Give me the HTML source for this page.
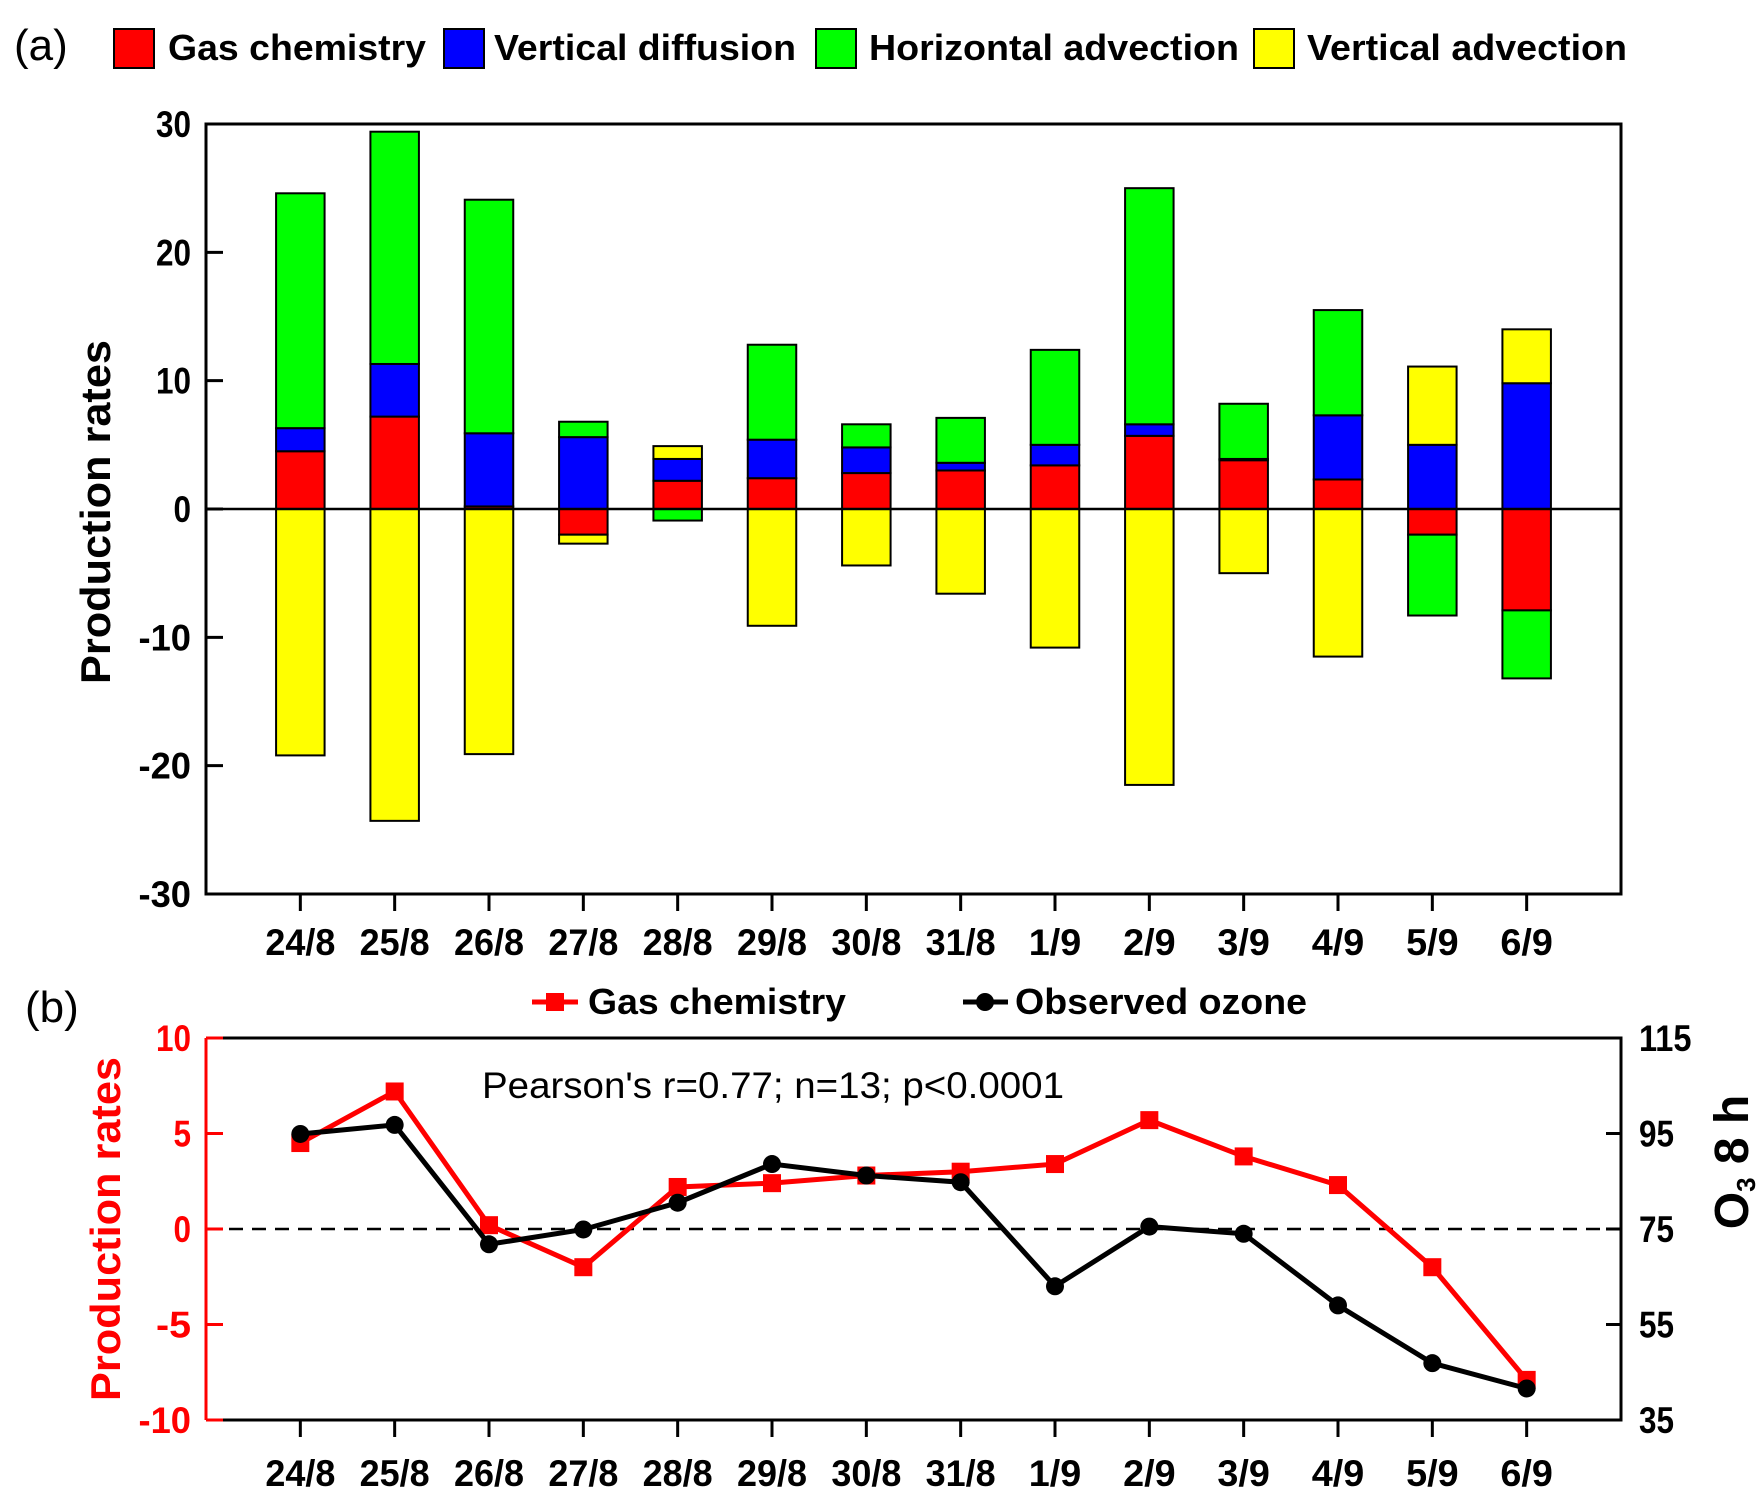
<!DOCTYPE html>
<html><head><meta charset="utf-8"><style>
html,body{margin:0;padding:0;background:#fff}
svg{display:block}
text{font-family:"Liberation Sans Narrow","Liberation Sans",sans-serif}
.b{font-weight:bold}
</style></head><body>
<svg id="chart" width="1762" height="1509" viewBox="0 0 1762 1509" xmlns="http://www.w3.org/2000/svg">
<g id="static">
<text x="14" y="60" font-size="44" font-family="Liberation Sans, sans-serif">(a)</text>
<g>
<rect x="114" y="29" width="40" height="39" fill="#ff0000" stroke="#000" stroke-width="2"/>
<text x="168" y="60" class="b" font-size="36" textLength="258" lengthAdjust="spacingAndGlyphs">Gas chemistry</text>
<rect x="444" y="29" width="40" height="39" fill="#0000ff" stroke="#000" stroke-width="2"/>
<text x="494" y="60" class="b" font-size="36" textLength="302" lengthAdjust="spacingAndGlyphs">Vertical diffusion</text>
<rect x="816" y="29" width="40" height="39" fill="#00ff00" stroke="#000" stroke-width="2"/>
<text x="869" y="60" class="b" font-size="36" textLength="370" lengthAdjust="spacingAndGlyphs">Horizontal advection</text>
<rect x="1254" y="29" width="40" height="39" fill="#ffff00" stroke="#000" stroke-width="2"/>
<text x="1307" y="60" class="b" font-size="36" textLength="320" lengthAdjust="spacingAndGlyphs">Vertical advection</text>
</g>
<text transform="translate(110,512) rotate(-90)" text-anchor="middle" class="b" font-size="42" textLength="344" lengthAdjust="spacingAndGlyphs" font-family="Liberation Sans, sans-serif">Production  rates</text>
<text x="25" y="1022" font-size="44" font-family="Liberation Sans, sans-serif">(b)</text>
<g>
<line x1="532" y1="1002" x2="578" y2="1002" stroke="#ff0000" stroke-width="5"/>
<rect x="546" y="993" width="18" height="18" fill="#ff0000"/>
<text x="588" y="1014" class="b" font-size="36" textLength="258" lengthAdjust="spacingAndGlyphs">Gas chemistry</text>
<line x1="963" y1="1002" x2="1008" y2="1002" stroke="#000" stroke-width="5"/>
<circle cx="985" cy="1002" r="9" fill="#000"/>
<text x="1015" y="1014" class="b" font-size="36" textLength="292" lengthAdjust="spacingAndGlyphs">Observed ozone</text>
</g>
<text x="482" y="1098" font-size="37" textLength="582" lengthAdjust="spacingAndGlyphs">Pearson's r=0.77; n=13; p&lt;0.0001</text>
<text transform="translate(120,1229) rotate(-90)" text-anchor="middle" class="b" font-size="42" textLength="344" lengthAdjust="spacingAndGlyphs" fill="#ff0000" font-family="Liberation Sans, sans-serif">Production  rates</text>
<text transform="translate(1748,1162) rotate(-90)" text-anchor="middle" class="b" font-size="48" font-family="Liberation Sans, sans-serif">O<tspan font-size="26" dy="7">3</tspan><tspan dy="-7"> 8 h</tspan></text>
</g>
<g id="dyn"></g>
</svg>
<script>
const categories = ["24/8","25/8","26/8","27/8","28/8","29/8","30/8","31/8","1/9","2/9","3/9","4/9","5/9","6/9"];
const gasChemistry = [4.5,7.2,0.2,-2.0,2.2,2.4,2.8,3.0,3.4,5.7,3.8,2.3,-2.0,-7.9];
const verticalDiffusion = [1.8,4.1,5.7,5.6,1.7,3.0,2.0,0.6,1.6,0.9,0.1,5.0,5.0,9.8];
const horizontalAdvection = [18.3,18.1,18.2,1.2,-0.9,7.4,1.8,3.5,7.4,18.4,4.3,8.2,-6.3,-5.3];
const verticalAdvection = [-19.2,-24.3,-19.1,-0.7,1.0,-9.1,-4.4,-6.6,-10.8,-21.5,-5.0,-11.5,6.1,4.2];
const observedOzone = [94.9,96.8,71.8,74.9,80.5,88.6,86.2,84.8,63.0,75.5,74.0,59.0,46.9,41.6];
const ticksA = [-30,-20,-10,0,10,20,30];
const ticksBLeft = [-10,-5,0,5,10];
const ticksBRight = [35,55,75,95,115];

const NS="http://www.w3.org/2000/svg";
const dyn=document.getElementById('dyn');
function mk(tag,attrs,parent){const e=document.createElementNS(NS,tag);for(const k in attrs)e.setAttribute(k,attrs[k]);(parent||dyn).appendChild(e);return e;}
const L=206,R=1621;
const BT=1038,BB=1420;
const xPos=i=>L+(i+1)*(R-L)/(categories.length+1);
const yA=v=>509-(v)*(894-124)/60;
const yB=v=>(BT+BB)/2-v*(BB-BT)/20;
const yR=v=>BB-(v-35)*(BB-BT)/80;
const tl=s=>String(s).length*17.5;

const series=[[gasChemistry,'#ff0000','gas-chemistry'],[verticalDiffusion,'#0000ff','vertical-diffusion'],[horizontalAdvection,'#00ff00','horizontal-advection'],[verticalAdvection,'#ffff00','vertical-advection']];
const bw=48.5;
const barsG=mk('g',{});


categories.forEach((c,i)=>{
  let pos=0,neg=0;
  series.forEach(([arr,col,nm])=>{
    const v=arr[i];let a,b;
    if(v>=0){a=pos;b=pos+v;pos=b;}else{a=neg;b=neg+v;neg=b;}
    const y1=yA(Math.max(a,b)),y2=yA(Math.min(a,b));
    const r=mk('rect',{x:xPos(i)-bw/2,y:y1,width:bw,height:Math.max(0,y2-y1),fill:col,stroke:'#000','stroke-width':2},barsG);
    
    
  });
});
const z=mk('line',{x1:L,x2:R,y1:yA(0),y2:yA(0),stroke:'#000','stroke-width':2.5});


const fa=mk('rect',{x:L,y:yA(30),width:R-L,height:yA(-30)-yA(30),fill:'none',stroke:'#000','stroke-width':3});


ticksA.forEach(t=>{
  const ln=mk('line',{x1:L,x2:L+17,y1:yA(t),y2:yA(t),stroke:'#000','stroke-width':3});
  
  
  const tx=mk('text',{x:L-15,y:yA(t)+13,'text-anchor':'end','font-size':37,'font-weight':'bold',textLength:tl(t),lengthAdjust:'spacingAndGlyphs'});
  tx.textContent=t;
  
  
});
categories.forEach((c,i)=>{
  const ln=mk('line',{x1:xPos(i),x2:xPos(i),y1:yA(-30),y2:yA(-30)+17,stroke:'#000','stroke-width':3});
  
  
  const tx=mk('text',{x:xPos(i),y:955,'text-anchor':'middle','font-size':37,'font-weight':'bold',textLength:tl(c),lengthAdjust:'spacingAndGlyphs'});
  tx.textContent=c;
  
  
  const ln2=mk('line',{x1:xPos(i),x2:xPos(i),y1:BB,y2:BB+17,stroke:'#000','stroke-width':3});
  
  
  const tx2=mk('text',{x:xPos(i),y:1486,'text-anchor':'middle','font-size':37,'font-weight':'bold',textLength:tl(c),lengthAdjust:'spacingAndGlyphs'});
  tx2.textContent=c;
  
  
});

const dash=mk('line',{x1:L,x2:R,y1:yB(0),y2:yB(0),stroke:'#000','stroke-width':2.5,'stroke-dasharray':'14 9'});


const fb1=mk('path',{d:`M${L},${BT} H${R} V${BB} H${L}`,fill:'none',stroke:'#000','stroke-width':3});


const fb2=mk('line',{x1:L,x2:L,y1:BT,y2:BB,stroke:'#ff0000','stroke-width':3});


ticksBLeft.forEach(t=>{
  const ln=mk('line',{x1:L,x2:L+17,y1:yB(t),y2:yB(t),stroke:'#ff0000','stroke-width':3});
  
  
  const tx=mk('text',{x:L-15,y:yB(t)+13,'text-anchor':'end','font-size':37,'font-weight':'bold',fill:'#ff0000',textLength:tl(t),lengthAdjust:'spacingAndGlyphs'});
  tx.textContent=t;
  
  
});
ticksBRight.forEach(t=>{
  const ln=mk('line',{x1:R,x2:R-15,y1:yR(t),y2:yR(t),stroke:'#000','stroke-width':3});
  
  
  const tx=mk('text',{x:R+18,y:yR(t)+13,'text-anchor':'start','font-size':37,'font-weight':'bold',textLength:tl(t),lengthAdjust:'spacingAndGlyphs'});
  tx.textContent=t;
  
  
});
const gl=mk('polyline',{points:gasChemistry.map((v,i)=>xPos(i)+','+yB(v)).join(' '),fill:'none',stroke:'#ff0000','stroke-width':5});


gasChemistry.forEach((v,i)=>{
  const r=mk('rect',{x:xPos(i)-9,y:yB(v)-9,width:18,height:18,fill:'#ff0000'});
  
  
});
const ol=mk('polyline',{points:observedOzone.map((v,i)=>xPos(i)+','+yR(v)).join(' '),fill:'none',stroke:'#000','stroke-width':5});


observedOzone.forEach((v,i)=>{
  const c=mk('circle',{cx:xPos(i),cy:yR(v),r:9,fill:'#000'});
  
  
});
</script>
</body></html>
